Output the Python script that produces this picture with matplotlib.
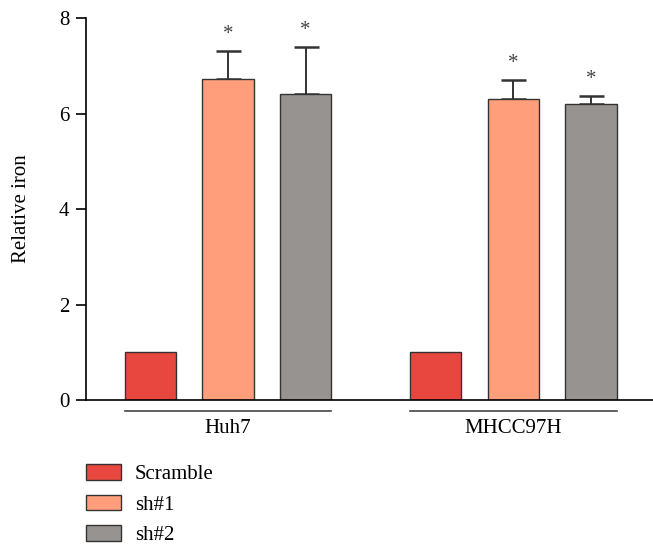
import numpy as np
import matplotlib
matplotlib.use("Agg")
import matplotlib.pyplot as plt
from matplotlib.patches import Patch

# data
cells = ["Huh7", "MHCC97H"]
groups = ["Scramble", "sh#1", "sh#2"]
iron = [[1.0, 6.72, 6.41],
        [1.0, 6.31, 6.19]]
iron_err = [[0.0, 0.59, 0.98],
            [0.0, 0.39, 0.18]]
starred = [[False, True, True],
           [False, True, True]]
colors = ["#E8473F", "#FF9E7A", "#979391"]

plt.rcParams["font.family"] = ["Liberation Serif", "DejaVu Serif"]
plt.rcParams["font.size"] = 15

fig = plt.figure(figsize=(6.53, 5.47), dpi=100)
ax = fig.add_axes([0.1317, 0.2687, 0.8683, 0.6984])

gap = 3.68   # offset between the two cell lines
width = 0.66
for ci, cell in enumerate(cells):
    xs = np.arange(len(groups)) + ci * gap
    for gi in range(len(groups)):
        ax.bar(xs[gi], iron[ci][gi], width=width, color=colors[gi],
               edgecolor="#333333", linewidth=1.0, zorder=2)
        if iron_err[ci][gi] > 0:
            ax.errorbar(xs[gi], iron[ci][gi], yerr=[[0], [iron_err[ci][gi]]],
                        fmt="none", ecolor="#333333", elinewidth=1.4,
                        capsize=9, capthick=1.8, zorder=1)
        if starred[ci][gi]:
            ax.text(xs[gi], iron[ci][gi] + iron_err[ci][gi] + 0.15, "*",
                    ha="center", va="bottom", fontsize=15, color="#444444")
    # group underline and label
    ax.plot([xs[0] - width / 2, xs[-1] + width / 2], [-0.22, -0.22],
            color="#444444", lw=1.2, clip_on=False)
    ax.text(xs[1], -0.6, cell, ha="center", va="center", fontsize=15)

ax.set_xlim(-0.832, 6.48)
ax.set_ylim(0, 8)
ax.set_yticks([0, 2, 4, 6, 8])
ax.set_xticks([])
ax.spines["top"].set_visible(False)
ax.spines["right"].set_visible(False)
ax.spines["left"].set_linewidth(1.2)
ax.spines["bottom"].set_linewidth(1.2)
ax.tick_params(axis="y", direction="out", length=7, width=1.2, pad=5, labelsize=15)
ax.set_ylabel("Relative iron", fontsize=15, labelpad=20)

handles = [Patch(facecolor=c, edgecolor="#333333", linewidth=1.0) for c in colors]
fig.legend(handles, groups, loc="upper left", bbox_to_anchor=(0.1317, 0.151),
           frameon=False, borderpad=0, borderaxespad=0, handlelength=1.68,
           handleheight=0.77, labelspacing=0.5, handletextpad=0.67, fontsize=15)

fig.savefig("out.png", dpi=100)
